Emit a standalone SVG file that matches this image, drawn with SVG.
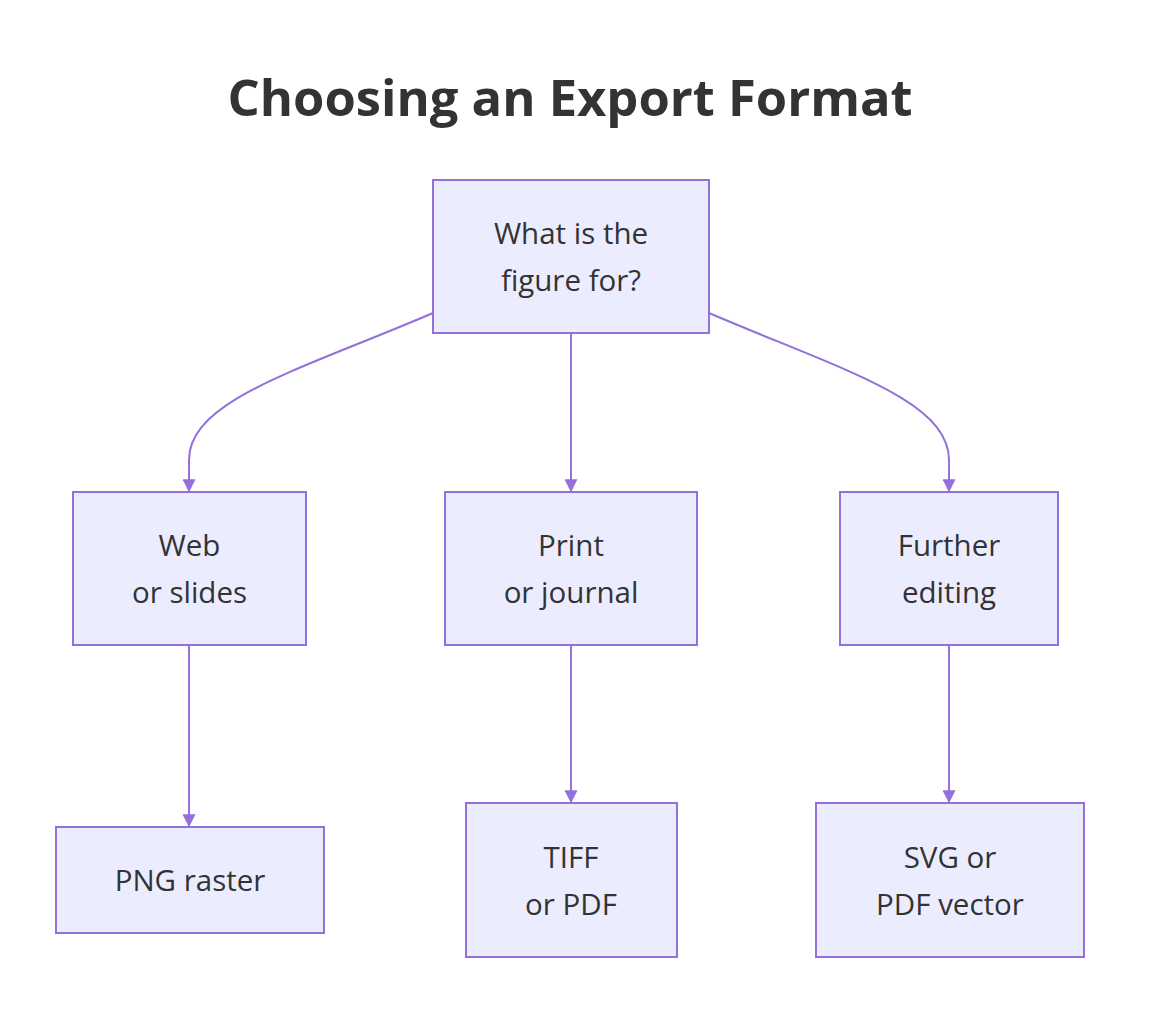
<svg xmlns="http://www.w3.org/2000/svg" width="1156" height="1026" viewBox="0 0 1156 1026">
<style>
.n rect{fill:#ECECFF;stroke:#9370DB;stroke-width:2}
.n text{font-family:"Open Sans","Noto Sans",sans-serif;font-size:29.5px;fill:#333;text-anchor:middle}
.c path{fill:none;stroke:#9370DB;stroke-width:2}
</style>
<defs><marker id="a" viewBox="0 0 10 10" refX="9" refY="5" markerWidth="13" markerHeight="13" markerUnits="userSpaceOnUse" orient="auto"><path d="M0,0L10,5L0,10z" fill="#9370DB"/></marker></defs>
<rect width="1156" height="1026" fill="#fff"/>
<text x="570" y="116" font-family="'Open Sans','Noto Sans',sans-serif" font-size="50.7" font-weight="bold" fill="#333" text-anchor="middle">Choosing an Export Format</text>
<g class="c">
<path d="M433,313 C300,370 189,400 189,460 L189,491" marker-end="url(#a)"/>
<path d="M571,333 L571,491" marker-end="url(#a)"/>
<path d="M709,313 C842,370 949,400 949,460 L949,491" marker-end="url(#a)"/>
<path d="M189,645 L189,826" marker-end="url(#a)"/>
<path d="M571,645 L571,802" marker-end="url(#a)"/>
<path d="M949,645 L949,802" marker-end="url(#a)"/>
</g>
<g id="q" class="n"><rect x="433" y="180" width="276" height="153"/><text x="571" y="244">What is the</text><text x="571" y="291">figure for?</text></g>
<g id="web" class="n"><rect x="73" y="492" width="233" height="153"/><text x="189.5" y="556">Web</text><text x="189.5" y="603">or slides</text></g>
<g id="print" class="n"><rect x="445" y="492" width="252" height="153"/><text x="571" y="556">Print</text><text x="571" y="603">or journal</text></g>
<g id="edit" class="n"><rect x="840" y="492" width="218" height="153"/><text x="949" y="556">Further</text><text x="949" y="603">editing</text></g>
<g id="png" class="n"><rect x="56" y="827" width="268" height="106"/><text x="190" y="891">PNG raster</text></g>
<g id="tiff" class="n"><rect x="466" y="803" width="211" height="154"/><text x="571" y="868">TIFF</text><text x="571" y="915">or PDF</text></g>
<g id="svg" class="n"><rect x="816" y="803" width="268" height="154"/><text x="950" y="868">SVG or</text><text x="950" y="915">PDF vector</text></g>
</svg>
